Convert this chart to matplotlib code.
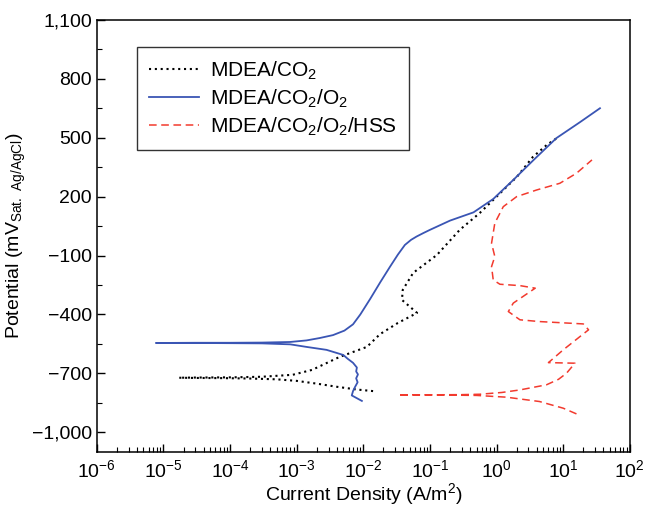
import matplotlib
matplotlib.use("Agg")
import matplotlib.pyplot as plt
from matplotlib.ticker import FixedLocator, FuncFormatter, LogLocator

plt.rcParams["font.family"] = ["Liberation Sans", "DejaVu Sans"]
plt.rcParams["mathtext.default"] = "regular"

# MDEA/CO2 (cathodic end -> Ecorr -> anodic end)
co2_i = [0.014, 0.008, 4e-3, 2e-3, 1e-3, 5e-4, 2e-4, 8e-5, 3e-5, 1.7e-5,
         3e-5, 1e-4, 3e-4, 8.7e-4, 1.7e-3, 4.4e-3, 0.0113, 0.0178, 0.033,
         0.064, 0.053, 0.038, 0.039, 0.056, 0.127, 0.28, 0.56, 2.02, 3.5,
         5.7, 8.2]
co2_E = [-790, -782, -768, -752, -738, -730, -726, -724, -723, -722,
         -721, -720, -717, -707, -682, -616, -565, -500, -443,
         -392, -368, -326, -275, -188, -97, 31, 117, 301, 402,
         464, 500]

# MDEA/CO2/O2
o2_i = [0.0095, 0.0067, 0.0070, 0.0075, 0.0082, 0.0078, 0.0083, 0.0078,
        0.0080, 0.0070, 0.0058, 0.005, 0.0028, 0.0014, 8e-4, 3e-4, 1e-4,
        3e-5, 7.7e-6,
        3e-5, 1e-4, 3e-4, 7.9e-4, 1.4e-3, 2.2e-3, 3.5e-3, 5.2e-3, 7e-3,
        0.009, 0.0127, 0.018, 0.025, 0.033, 0.042, 0.052, 0.063, 0.08, 0.1,
        0.2, 0.45, 0.89, 1.78, 3.6, 7.9, 18, 35.6]
o2_E = [-840, -812, -790, -769, -745, -725, -705, -690,
        -670, -646, -625, -606, -580, -565, -552, -547, -546,
        -545, -545,
        -544, -544, -543, -540, -532, -520, -505, -482, -450,
        -400, -320, -235, -158, -95, -46, -20, -3, 15, 31,
        78, 120, 188, 285, 387, 498, 580, 650]

# MDEA/CO2/O2/HSS
hss_i = [15.8, 10, 4.4, 1.41, 0.5, 0.15, 0.033,
         0.1, 0.3, 0.56, 1.2, 2.24, 5.6, 8.5, 11.2, 15.0, 6.0, 10, 17.9,
         24, 20, 4.4, 2.24, 1.5, 1.78, 3.8, 2.24, 1.12, 0.89, 0.84, 0.94,
         0.84, 0.94, 1.26, 2.0, 4.0, 8.9, 15.8, 27]
hss_E = [-906, -877, -843, -821, -812, -810, -809,
         -809, -808, -806, -797, -784, -758, -730, -699, -648, -645, -580, -512,
         -478, -448, -436, -427, -385, -342, -266, -253, -246, -224, -156, -105,
         -37, 65, 149, 200, 234, 268, 319, 387]

labels = ["MDEA/CO$_2$", "MDEA/CO$_2$/O$_2$", "MDEA/CO$_2$/O$_2$/HSS"]
y_ticks = [-1000, -700, -400, -100, 200, 500, 800, 1100]

fig = plt.figure(figsize=(6.5, 5.09), dpi=100)
ax = fig.add_axes([0.149, 0.112, 0.820, 0.849])

ax.plot(co2_i, co2_E, color="black", linestyle=(0, (1, 1.8)), linewidth=1.5,
        label=labels[0])
ax.plot(o2_i, o2_E, color="#3a55b4", linestyle="-", linewidth=1.3,
        label=labels[1])
ax.plot(hss_i, hss_E, color="#f23a2e", linestyle=(0, (5, 3)), linewidth=1.1,
        label=labels[2])

ax.set_xscale("log")
ax.set_xlim(1e-6, 1e2)
ax.set_ylim(-1100, 1100)
ax.xaxis.set_major_locator(LogLocator(base=10, numticks=20))
ax.xaxis.set_minor_locator(LogLocator(base=10, subs=range(2, 10), numticks=20))
ax.yaxis.set_major_locator(FixedLocator(y_ticks))
ax.yaxis.set_minor_locator(FixedLocator([v + 150 for v in y_ticks[:-1]]))
ax.yaxis.set_major_formatter(
    FuncFormatter(lambda v, _: f"{int(v):,}".replace("-", "\u2212")))

ax.tick_params(which="both", direction="in", top=False, right=False,
               labelsize=14)
ax.tick_params(which="major", length=6, width=1)
ax.tick_params(which="minor", length=3.5, width=0.8)
ax.tick_params(axis="x", which="major", pad=5)
for s in ax.spines.values():
    s.set_linewidth(1.1)

ax.set_xlabel("Current Density (A/m$^2$)", fontsize=14, labelpad=0)
ax.set_ylabel(r"Potential (mV$_{\mathregular{Sat.\ Ag/AgCl}}$)", fontsize=14,
              labelpad=3)

ax.legend(loc="upper left", bbox_to_anchor=(0.075, 0.9375), fontsize=15,
          frameon=True, fancybox=False, framealpha=1, edgecolor="#333333",
          handlelength=2.4, handletextpad=0.5, labelspacing=0.28,
          borderpad=0.6, borderaxespad=0)

fig.savefig("out.png", dpi=100)
